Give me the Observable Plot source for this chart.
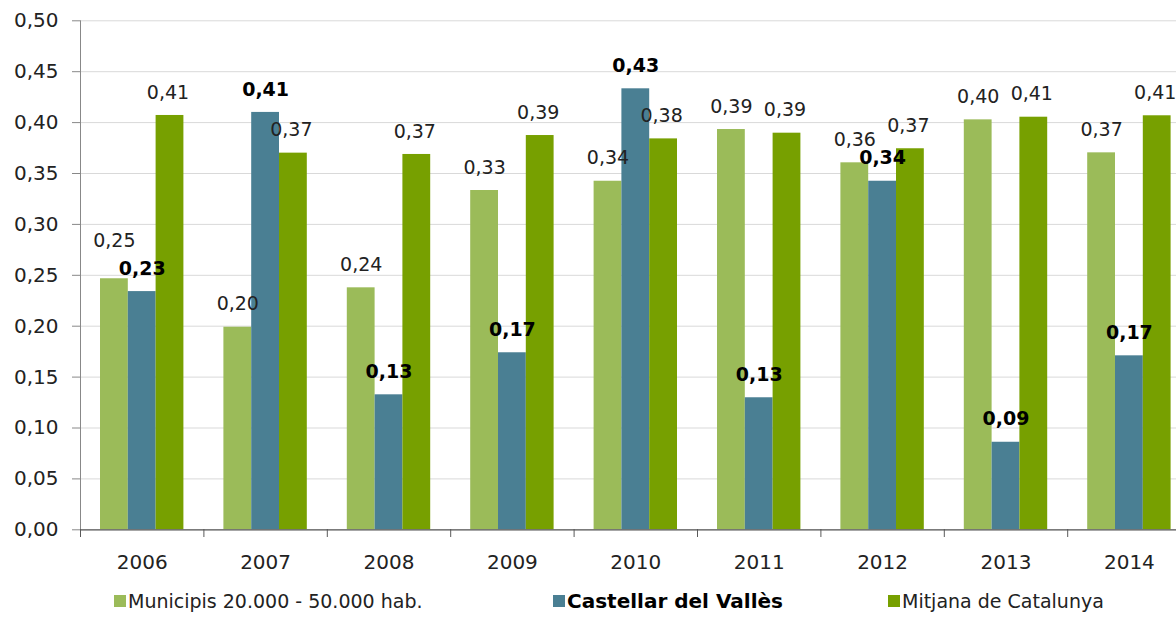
<!DOCTYPE html>
<html>
<head>
<meta charset="utf-8">
<script src="https://cdn.jsdelivr.net/npm/d3@7"></script>
<script src="https://cdn.jsdelivr.net/npm/@observablehq/plot@0.6"></script>
<style>
  html, body { margin: 0; padding: 0; background: #fff; overflow: hidden; }
  #chart { width: 1176px; }
  .legend { position: relative; width: 1176px; height: 41px; font-family: "DejaVu Sans", Verdana, sans-serif; font-size: 19px; color: #222; }
  .legend .item { position: absolute; top: 0; height: 41px; display: flex; align-items: center; white-space: nowrap; }
  .legend .sw { width: 12px; height: 12px; margin-right: 2px; display: inline-block; }
</style>
</head>
<body>
<div id="chart"></div>
<div class="legend" id="legend"></div>
<script>
const years = ["2006", "2007", "2008", "2009", "2010", "2011", "2012", "2013", "2014"];
const municipis = [0.2466, 0.199, 0.2377, 0.3333, 0.3424, 0.3932, 0.3605, 0.4027, 0.3703];
const castellar = [0.234, 0.410, 0.1326, 0.1739, 0.4332, 0.1297, 0.3424, 0.086, 0.1709];
const mitjana = [0.407, 0.370, 0.3687, 0.3873, 0.384, 0.3896, 0.3743, 0.4053, 0.4067];
const seriesNames = ["Municipis 20.000 - 50.000 hab.", "Castellar del Vallès", "Mitjana de Catalunya"];
const seriesColors = ["#9bbb59", "#4a7f93", "#77a000"];
const yTicks = [0, 0.05, 0.10, 0.15, 0.20, 0.25, 0.30, 0.35, 0.40, 0.45, 0.50];

const fmt = v => v.toFixed(2).replace(".", ",");
const seriesValues = [municipis, castellar, mitjana];

const rows = [];
seriesValues.forEach((vals, k) => {
  vals.forEach((v, i) => {
    let anchor = v;
    if (k === 0 && Math.abs(v - castellar[i]) < 0.015) anchor = Math.max(v, castellar[i]) + 0.015;
    rows.push({i, k, year: years[i], series: seriesNames[k], value: v, anchor});
  });
});

const w = 27.8 / 123.4; // bar width as fraction of a year slot
const cx = d => d.i + 0.5 + (d.k - 1) * w;

const chart = Plot.plot({
  width: 1176,
  height: 580,
  marginLeft: 80,
  marginRight: 0,
  marginTop: 20,
  marginBottom: 51,
  style: {fontFamily: "DejaVu Sans, Verdana, sans-serif", fontSize: "19px", color: "#222", background: "#fff"},
  x: {domain: [0, 9], range: [80, 1190.6]},
  y: {domain: [0, 0.5], range: [529.3, 20.3]},
  color: {domain: seriesNames, range: seriesColors},
  marks: [
    Plot.gridY(yTicks, {stroke: "#d9d9d9", strokeOpacity: 1}),
    Plot.rectY(rows, {
      x1: d => cx(d) - w / 2,
      x2: d => cx(d) + w / 2,
      y: "value",
      fill: "series"
    }),
    Plot.ruleY([0], {stroke: "#595959", strokeWidth: 1.3}),
    Plot.ruleX([0], {y1: 0, y2: 0.5, stroke: "#888"}),
    Plot.axisY({ticks: yTicks, tickSize: 8, tickPadding: 14, tickFormat: fmt, stroke: "#888", fill: "#222", fontSize: 20, label: null}),
    Plot.axisX({ticks: d3.range(0, 10), tickSize: 8, tickFormat: () => "", stroke: "#595959", label: null}),
    Plot.axisX({ticks: years.map((y, i) => i + 0.5), tickSize: 0, tickPadding: 25, tickFormat: d => years[Math.round(d - 0.5)], fill: "#222", fontSize: 20, label: null}),
    Plot.text(rows.filter(d => d.k === 0), {
      x: cx, y: "anchor", text: d => fmt(d.value), dy: -23, fill: "#222"
    }),
    Plot.text(rows.filter(d => d.k === 2), {
      x: cx, y: "anchor", text: d => fmt(d.value), dy: -23, dx: -2, fill: "#222"
    }),
    Plot.text(rows.filter(d => d.k === 1), {
      x: cx, y: "anchor", text: d => fmt(d.value), dy: -23, fill: "#000", fontWeight: "bold"
    })
  ]
});
document.getElementById("chart").appendChild(chart);

const legend = document.getElementById("legend");
const legendLeft = [114, 553, 888];
seriesNames.forEach((name, k) => {
  const item = document.createElement("div");
  item.className = "item";
  item.style.left = legendLeft[k] + "px";
  const sw = document.createElement("span");
  sw.className = "sw";
  sw.style.background = seriesColors[k];
  const t = document.createElement("span");
  t.textContent = name;
  if (k === 1) { t.style.fontWeight = "bold"; t.style.color = "#000"; t.style.fontSize = "20px"; }
  item.appendChild(sw);
  item.appendChild(t);
  legend.appendChild(item);
});
</script>
</body>
</html>
